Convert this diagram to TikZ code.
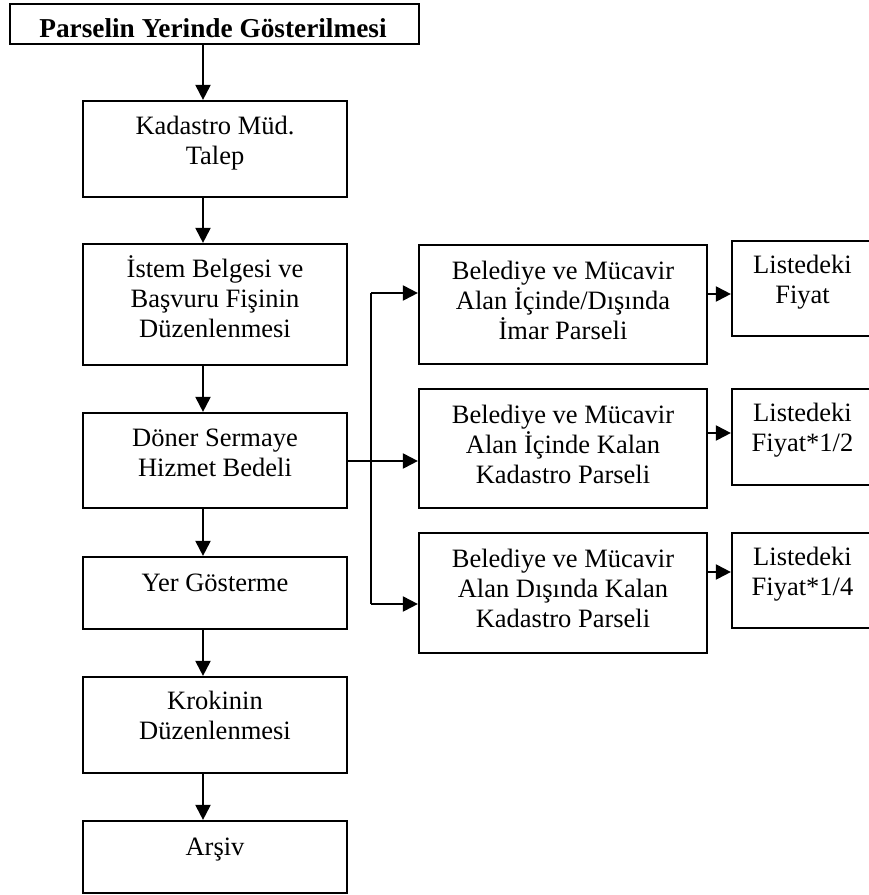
\documentclass[tikz,border=0pt]{standalone}
\usepackage{fontspec}
\setmainfont{Liberation Serif}
\usetikzlibrary{arrows.meta}

% centred lines, baseline of the node = baseline of the first line
\newcommand{\stack}[1]{\vtop{\let\\\cr\halign{\hfil##\hfil\cr#1\crcr}}}

\tikzset{
  x=1pt, y=-1pt,
  box/.style={draw, line width=2.2pt, inner sep=0pt, minimum width=264pt},
  txt/.style={anchor=base, inner sep=0pt,
    font=\fontsize{26.5}{30}\selectfont},
  link/.style={line width=2pt},
  arr/.style={line width=2pt, -{Triangle[length=15pt,width=15pt]}}
}

\begin{document}
\begin{tikzpicture}
\useasboundingbox (0,0) rectangle (869,895);
\clip (0,0) rectangle (869,895);

% main column
\node[box, minimum width=409pt, minimum height=40pt] (b0) at (214.5,24) {};
\node[box, minimum height=96pt]  (b1) at (215,149) {};
\node[box, minimum height=121pt] (b2) at (215,304.5) {};
\node[box, minimum height=95pt]  (b3) at (215,460.5) {};
\node[box, minimum height=72pt]  (b4) at (215,593) {};
\node[box, minimum height=96pt]  (b5) at (215,725) {};
\node[box, minimum height=72pt]  (b6) at (215,857) {};

\node[txt, font=\fontsize{27.3}{30}\selectfont\bfseries] (t0) at (213,37)
  {Parselin Yerinde Gösterilmesi};
\node[txt] (t1) at ([yshift=-35pt]b1.north) {\stack{Kadastro Müd.\\Talep}};
\node[txt] (t2) at ([yshift=-35pt]b2.north) {\stack{İstem Belgesi ve\\Başvuru Fişinin\\Düzenlenmesi}};
\node[txt] (t3) at ([yshift=-35pt]b3.north) {\stack{Döner Sermaye\\Hizmet Bedeli}};
\node[txt] (t4) at ([yshift=-36pt]b4.north) {\stack{Yer Gösterme}};
\node[txt] (t5) at ([yshift=-34pt]b5.north) {\stack{Krokinin\\Düzenlenmesi}};
\node[txt] (t6) at ([yshift=-36pt]b6.north) {\stack{Arşiv}};

% parcel types
\node[box, minimum width=288pt, minimum height=119pt] (m1) at (563,304.5) {};
\node[box, minimum width=288pt, minimum height=119pt] (m2) at (563,448.5) {};
\node[box, minimum width=288pt, minimum height=120pt] (m3) at (563,593) {};
\node[txt] (u1) at ([yshift=-36pt]m1.north) {\stack{Belediye ve Mücavir\\Alan İçinde/Dışında\\İmar Parseli}};
\node[txt] (u2) at ([yshift=-36pt]m2.north) {\stack{Belediye ve Mücavir\\Alan İçinde Kalan\\Kadastro Parseli}};
\node[txt] (u3) at ([yshift=-36pt]m3.north) {\stack{Belediye ve Mücavir\\Alan Dışında Kalan\\Kadastro Parseli}};

% prices
\node[box, minimum width=141pt, minimum height=95pt] (s1) at (802.5,288.5) {};
\node[box, minimum width=141pt, minimum height=96pt] (s2) at (802.5,437) {};
\node[box, minimum width=141pt, minimum height=95pt] (s3) at (802.5,580.5) {};
\node[txt] (v1) at ([yshift=-34pt]s1.north) {\stack{Listedeki\\Fiyat}};
\node[txt] (v2) at ([yshift=-34pt]s2.north) {\stack{Listedeki\\Fiyat*1/2}};
\node[txt] (v3) at ([yshift=-34pt]s3.north) {\stack{Listedeki\\Fiyat*1/4}};

% guide coordinates for connector lines
\coordinate (ax) at (203,0);
\coordinate (bus) at (371,0);
\coordinate (y1) at (0,293);
\coordinate (y2) at (0,461);
\coordinate (y3) at (0,604);
\coordinate (z1) at (0,294);
\coordinate (z2) at (0,433);
\coordinate (z3) at (0,572);

% main flow
\draw[arr] (b0.south -| ax) -- (b1.north -| ax);
\draw[arr] (b1.south -| ax) -- (b2.north -| ax);
\draw[arr] (b2.south -| ax) -- (b3.north -| ax);
\draw[arr] (b3.south -| ax) -- (b4.north -| ax);
\draw[arr] (b4.south -| ax) -- (b5.north -| ax);
\draw[arr] (b5.south -| ax) -- (b6.north -| ax);

% branching to parcel types
\draw[link] (bus |- y1) -- (bus |- y3);
\draw[arr] (bus |- y1) -- (m1.west |- y1);
\draw[arr] (b3.east |- y2) -- (m2.west |- y2);
\draw[arr] (bus |- y3) -- (m3.west |- y3);

% parcel type to price
\draw[arr] (m1.east |- z1) -- (s1.west |- z1);
\draw[arr] (m2.east |- z2) -- (s2.west |- z2);
\draw[arr] (m3.east |- z3) -- (s3.west |- z3);
\end{tikzpicture}
\end{document}
